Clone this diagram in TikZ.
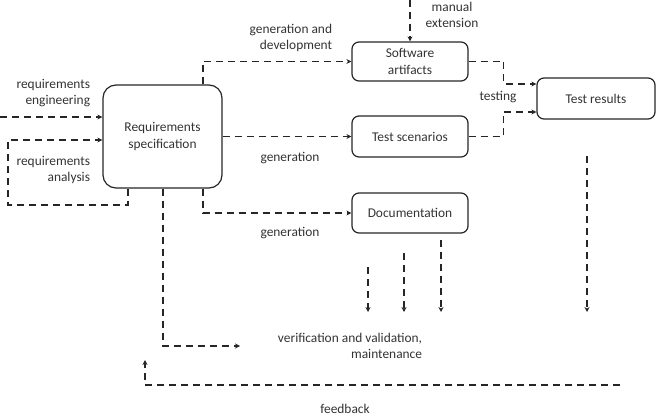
\documentclass[tikz,border=0pt]{standalone}
\usepackage{fontspec}
\setmainfont{Carlito}
\usetikzlibrary{arrows.meta,positioning}

\begin{document}
\begin{tikzpicture}[x=1pt, y=-1pt, line width=1.2pt,
    every node/.style={font=\fontsize{13.4}{16.5}\selectfont, text=black!80, align=center},
    box/.style={draw=black!85, rounded corners=7pt, minimum width=116pt},
    flow/.style={draw=black!85, dash pattern=on 7pt off 5pt, -{Stealth[length=5pt,width=5pt]}},
    lbl/.style={align=right, anchor=east}]
  \useasboundingbox (0,0) rectangle (656,417);
  % boxes
  \node[box, minimum width=119pt, minimum height=103pt, rounded corners=13pt] (reqspec) at (162.5,136.5) {Requirements\\specification};
  \node[box, minimum height=39pt] (software) at (410,61.5) {Software\\artifacts};
  \node[box, minimum height=41pt] (scenarios) at (410,136.5) {Test scenarios};
  \node[box, minimum height=40pt] (docu) at (410,213) {Documentation};
  \node[box, minimum width=118pt, minimum height=41pt] (results) at (596,98.5) {Test results};
  % free ends
  \coordinate (manualtop) at (410,0);
  \coordinate (engin) at (0,117);
  \coordinate (loopcorner) at (8,205);
  \coordinate (vvend) at (240,346);
  \coordinate (resdown) at (587,156);
  \coordinate (fbstart) at (620,385);
  \coordinate (fbend) at (145,360);
  % connectors
  \draw[flow] (manualtop) -- (software.north);
  \draw[flow] ([xshift=40.5pt]reqspec.north) |- (software.west);
  \draw[flow] (reqspec) -- (scenarios);
  \draw[flow] ([xshift=40.5pt]reqspec.south) |- (docu.west);
  \draw[flow] (software.east) -- ++(35,0) |- ([yshift=14.5pt]results.west);
  \draw[flow] (scenarios.east) -- ++(35,0) |- ([yshift=-13.5pt]results.west);
  \draw[flow] (engin) -- (engin -| reqspec.west);
  \draw[flow] ([xshift=-34.5pt]reqspec.south) |- (loopcorner) |- ([yshift=-3.5pt]reqspec.west);
  \draw[flow] ([xshift=0.5pt]reqspec.south) |- (vvend);
  \foreach \x/\y in {368/267,404/253,441/240} {
    \coordinate (vtop\x) at (\x,\y);
    \coordinate (vbot\x) at (\x,312);
    \draw[flow] (vtop\x) -- (vbot\x);
  }
  \draw[flow] (resdown) -- (resdown |- vbot368);
  \draw[flow] (fbstart) -| (fbend);
  % labels
  \node (manual) at (452,15) {manual\\extension};
  \node[lbl] (gendev) at (336,38) {generation and\\development};
  \node (gentest) at (290,158) {generation};
  \node (gendoc) at (290,233) {generation};
  \node (testing) at (498,97) {testing};
  \node[lbl] (engl) at (94,93) {requirements\\engineering};
  \node[lbl] (anal) at (94,170) {requirements\\analysis};
  \node[lbl] (vvlbl) at (426,346) {verification and validation,\\maintenance};
  \node (feedback) at (345,409) {feedback};
\end{tikzpicture}
\end{document}
